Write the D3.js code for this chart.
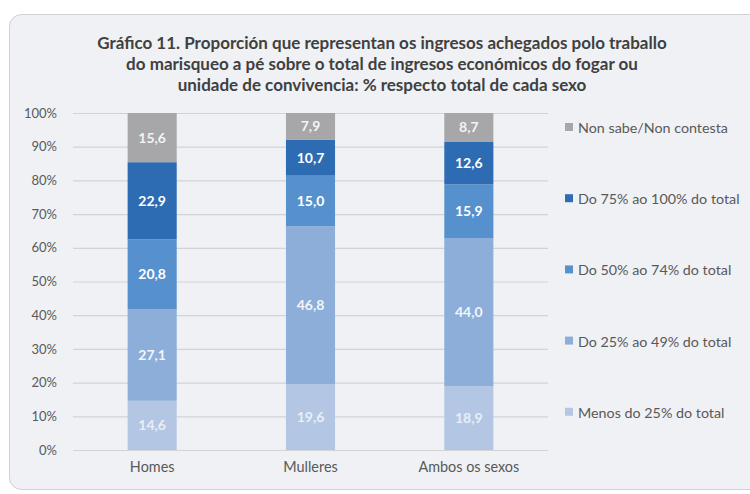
<!DOCTYPE html>
<html>
<head>
<meta charset="utf-8">
<script src="https://d3js.org/d3.v7.min.js"></script>
<style>
  body { margin: 0; background: #fff; }
  text { font-family: Lato, "Open Sans", "Liberation Sans", sans-serif; }
</style>
</head>
<body>
<svg id="chart" width="750" height="494"></svg>
<script>
// categories on the x axis
var categories = ["Homes", "Mulleres", "Ambos os sexos"];

// series, bottom to top
var seriesNames = [
  "Menos do 25% do total",
  "Do 25% ao 49% do total",
  "Do 50% ao 74% do total",
  "Do 75% ao 100% do total",
  "Non sabe/Non contesta"
];
var menos25 = [14.6, 19.6, 18.9];
var do25a49 = [27.1, 46.8, 44.0];
var do50a74 = [20.8, 15.0, 15.9];
var do75a100 = [22.9, 10.7, 12.6];
var nonSabe = [15.6, 7.9, 8.7];

var yTicks = [0, 10, 20, 30, 40, 50, 60, 70, 80, 90, 100];

var colors = ["#b3c7e4", "#8caed8", "#5691cd", "#2d6cb3", "#a7a6a9"];
var labelColors = ["#e9eef7", "#f3f6fb", "#ffffff", "#ffffff", "#f4f4f4"];

var allSeries = [menos25, do25a49, do50a74, do75a100, nonSabe];

// build rows for the stack
var rows = categories.map(function(c, i) {
  var r = { cat: c };
  seriesNames.forEach(function(s, k) { r[s] = allSeries[k][i]; });
  return r;
});
var stacked = d3.stack().keys(seriesNames)(rows);

var svg = d3.select("#chart");

// panel
svg.append("rect")
  .attr("x", 9.5).attr("y", 14.5)
  .attr("width", 760).attr("height", 475)
  .attr("rx", 12)
  .attr("fill", "#eff1f5")
  .attr("stroke", "#cfd1d6");

// title
var title = [
  "Gráfico 11. Proporción que representan os ingresos achegados polo traballo",
  "do marisqueo a pé sobre o total de ingresos económicos do fogar ou",
  "unidade de convivencia: % respecto total de cada sexo"
];
svg.append("g").selectAll("text").data(title).join("text")
  .attr("x", 382)
  .attr("y", function(d, i) { return 49 + i * 21; })
  .attr("text-anchor", "middle")
  .attr("font-size", 17)
  .attr("font-weight", "bold")
  .attr("fill", "#404040")
  .text(function(d) { return d; });

var x = d3.scaleBand().domain(categories).range([73, 548]).paddingInner(0.69).paddingOuter(0.345);
var y = d3.scaleLinear().domain([0, 100]).range([450, 113]).clamp(true);

// gridlines
svg.append("g").selectAll("line").data(yTicks).join("line")
  .attr("x1", 73).attr("x2", 548)
  .attr("y1", function(d) { return y(d) + 0.5; })
  .attr("y2", function(d) { return y(d) + 0.5; })
  .attr("stroke", "#d2d3d7")
  .attr("stroke-width", 1.2);

// y axis
var yAxis = svg.append("g")
  .attr("transform", "translate(60,0)")
  .call(d3.axisLeft(y).tickValues(yTicks).tickSize(0).tickFormat(function(d) { return d + "%"; }));
yAxis.select(".domain").remove();
yAxis.selectAll("text").attr("font-size", 13).attr("fill", "#595959")
  .style("font-family", "Lato, 'Open Sans', sans-serif");

// x axis
var xAxis = svg.append("g")
  .attr("transform", "translate(0,459)")
  .call(d3.axisBottom(x).tickSize(0));
xAxis.select(".domain").remove();
xAxis.selectAll("text").attr("font-size", 14.4).attr("fill", "#595959")
  .style("font-family", "Lato, 'Open Sans', sans-serif");

// bars (clipped at 100% like the original)
var layers = svg.append("g").selectAll("g").data(stacked).join("g")
  .attr("fill", function(d, i) { return colors[i]; });

layers.selectAll("rect").data(function(d) { return d; }).join("rect")
  .attr("x", function(d) { return x(d.data.cat); })
  .attr("width", x.bandwidth())
  .attr("y", function(d) { return y(d[1]); })
  .attr("height", function(d) { return y(d[0]) - y(d[1]); });

// value labels
svg.append("g").selectAll("g").data(stacked).join("g")
  .each(function(layer, li) {
    d3.select(this).selectAll("text").data(layer).join("text")
      .attr("x", function(d) { return x(d.data.cat) + x.bandwidth() / 2; })
      .attr("y", function(d) { return (y(d[0]) + y(d[1])) / 2 + 5; })
      .attr("text-anchor", "middle")
      .attr("font-size", 14)
      .attr("font-weight", "bold")
      .attr("fill", labelColors[li])
      .text(function(d) { return d3.format(".1f")(d[1] - d[0]).replace(".", ","); });
  });

// legend (top entry is the top series)
var legendItems = seriesNames.slice().reverse();
var legendColors = colors.slice().reverse();
var legend = svg.append("g").selectAll("g").data(legendItems).join("g")
  .attr("transform", function(d, i) { return "translate(565," + (128 + i * 71.2) + ")"; });
legend.append("rect")
  .attr("x", 0).attr("y", -5).attr("width", 8).attr("height", 8)
  .attr("fill", function(d, i) { return legendColors[i]; });
legend.append("text")
  .attr("x", 13).attr("y", 5)
  .attr("font-size", 14.3)
  .attr("fill", "#595959")
  .text(function(d) { return d; });
</script>
</body>
</html>
